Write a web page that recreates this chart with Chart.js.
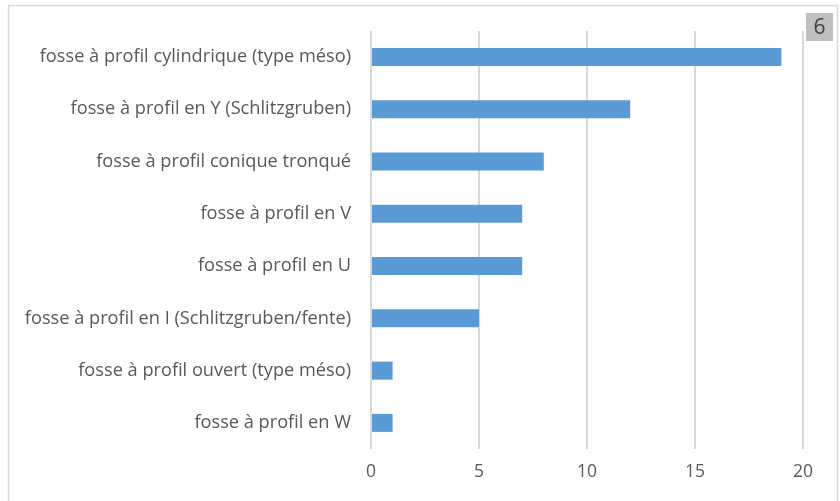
<!DOCTYPE html>
<html>
<head>
<meta charset="utf-8">
<script src="https://cdn.jsdelivr.net/npm/chart.js@4"></script>
<style>
  html, body { margin: 0; padding: 0; background: #fff; }
  #wrap { width: 840px; height: 501px; position: relative; }
</style>
</head>
<body>
<div id="wrap"><canvas id="myChart" width="840" height="501"></canvas></div>
<script>
const categories = [
  "fosse à profil cylindrique (type méso)",
  "fosse à profil en Y (Schlitzgruben)",
  "fosse à profil conique tronqué",
  "fosse à profil en V",
  "fosse à profil en U",
  "fosse à profil en I (Schlitzgruben/fente)",
  "fosse à profil ouvert (type méso)",
  "fosse à profil en W",
];
const counts = [19, 12, 8, 7, 7, 5, 1, 1];
const xTicks = [0, 5, 10, 15, 20];
const badgeText = "6";

const frameAndBadge = {
  id: "frameAndBadge",
  beforeDraw(chart) {
    const { ctx } = chart;
    ctx.save();
    ctx.fillStyle = "#ffffff";
    ctx.fillRect(0, 0, chart.width, chart.height);
    ctx.strokeStyle = "#d9d9d9";
    ctx.lineWidth = 1.5;
    ctx.beginPath();
    ctx.moveTo(8.5, 510);
    ctx.lineTo(8.5, 5.5);
    ctx.lineTo(837.5, 5.5);
    ctx.lineTo(837.5, 510);
    ctx.stroke();
    ctx.restore();
  },
  afterDraw(chart) {
    const { ctx } = chart;
    ctx.save();
    ctx.fillStyle = "#bfbfbf";
    ctx.fillRect(806, 13, 27, 28);
    ctx.fillStyle = "#404040";
    ctx.font = "21px 'Open Sans'";
    ctx.textAlign = "center";
    ctx.textBaseline = "middle";
    ctx.fillText(badgeText, 819.5, 28);
    ctx.restore();
  },
};

new Chart(document.getElementById("myChart"), {
  type: "bar",
  data: {
    labels: categories,
    datasets: [
      {
        data: counts,
        backgroundColor: "#5b9bd5",
        borderWidth: 0,
        categoryPercentage: 1,
        barPercentage: 0.345,
      },
    ],
  },
  options: {
    indexAxis: "y",
    responsive: false,
    animation: false,
    layout: { padding: { top: 30, right: 37, left: 0, bottom: 0 } },
    scales: {
      x: {
        min: 0,
        max: 20,
        afterBuildTicks(scale) {
          scale.ticks = xTicks.map((v) => ({ value: v }));
        },
        afterFit(scale) {
          scale.height = 52;
        },
        grid: { color: "#d9d9d9", lineWidth: 2, drawTicks: false },
        border: { display: false },
        ticks: {
          color: "#595959",
          padding: 13,
          font: { family: "'Open Sans'", size: 17.5 },
        },
      },
      y: {
        afterFit(scale) {
          scale.width = 371;
        },
        grid: { display: false, drawTicks: false },
        border: { display: false },
        ticks: {
          color: "#595959",
          padding: 20,
          font: { family: "'Open Sans'", size: 18.2 },
        },
      },
    },
    plugins: {
      legend: { display: false },
      tooltip: { enabled: false },
    },
  },
  plugins: [frameAndBadge],
});
</script>
</body>
</html>
